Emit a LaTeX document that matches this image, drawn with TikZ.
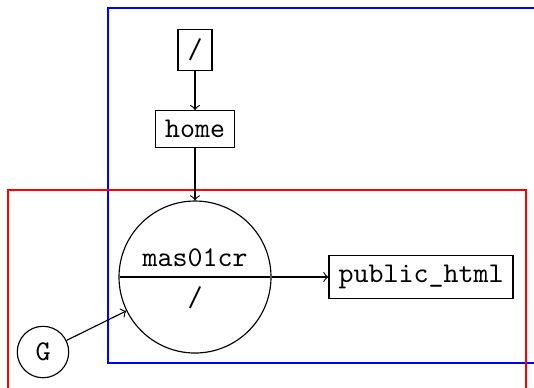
\documentclass[tikz,border=0pt]{standalone}
\usepackage{fontspec}
\usetikzlibrary{shapes.multipart}
\begin{document}
\begin{tikzpicture}[x=0.35pt,y=-0.35pt,
  every node/.style={font=\ttfamily},
  dirbox/.style={draw, rectangle, inner sep=3.33pt},
  link/.style={->},
  zone/.style={line width=0.9pt}]
\clip (0,0) rectangle (534,387);
% mount regions
\draw[zone, blue] (108,8) rectangle (560,363);
\draw[zone, red] (8,190) rectangle (526,420);
% directory nodes
\node[dirbox] (root) at (195,50) {/};
\node[dirbox] (home) at (195,129) {home};
\node[circle split, draw, minimum size=53.2pt] (user) at (195,277) {mas01cr \nodepart{lower} /};
\node[dirbox] (pub) at (421,277) {public\_html};
\node[circle, draw, minimum size=18pt, inner sep=1pt] (G) at (43,352) {G};
% links
\draw[link] (root) -- (home);
\draw[link] (home) -- (user);
\draw[link] (user) -- (pub);
\draw[link] (G) -- (user);
\end{tikzpicture}
\end{document}
